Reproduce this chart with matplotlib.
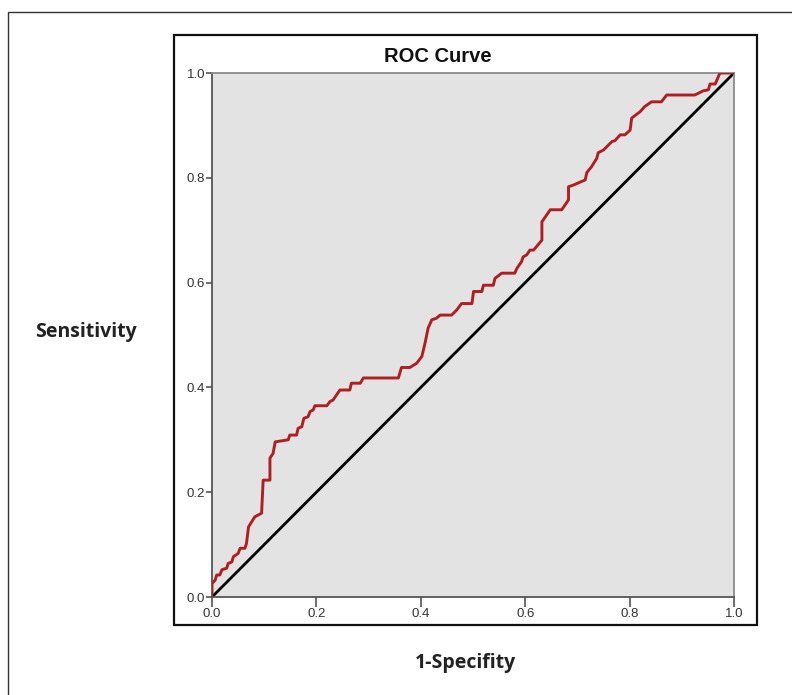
import matplotlib.pyplot as plt
from matplotlib.patches import Rectangle

# ROC curve points
fpr = [0.000, 0.000, 0.006, 0.009, 0.015, 0.019, 0.028, 0.031, 0.038, 0.041,
       0.050, 0.054, 0.063, 0.066, 0.070, 0.082, 0.095, 0.098, 0.111, 0.111,
       0.117, 0.121, 0.146, 0.149, 0.162, 0.165, 0.172, 0.176, 0.184, 0.188,
       0.194, 0.197, 0.220, 0.226, 0.232, 0.245, 0.264, 0.267, 0.284, 0.290,
       0.357, 0.363, 0.379, 0.392, 0.402, 0.408, 0.414, 0.421, 0.430, 0.437,
       0.459, 0.469, 0.478, 0.498, 0.501, 0.517, 0.520, 0.539, 0.542, 0.555,
       0.580, 0.584, 0.593, 0.596, 0.603, 0.609, 0.616, 0.632, 0.632, 0.648,
       0.670, 0.683, 0.683, 0.692, 0.715, 0.718, 0.727, 0.737, 0.740, 0.750,
       0.766, 0.772, 0.782, 0.791, 0.801, 0.804, 0.820, 0.829, 0.842, 0.861,
       0.871, 0.925, 0.941, 0.951, 0.954, 0.964, 0.973, 1.000]
tpr = [0.000, 0.026, 0.032, 0.042, 0.042, 0.052, 0.055, 0.064, 0.067, 0.077,
       0.083, 0.093, 0.093, 0.102, 0.134, 0.153, 0.160, 0.223, 0.223, 0.265,
       0.274, 0.296, 0.300, 0.309, 0.309, 0.322, 0.325, 0.341, 0.344, 0.354,
       0.357, 0.365, 0.365, 0.373, 0.376, 0.395, 0.395, 0.408, 0.408, 0.418,
       0.418, 0.438, 0.438, 0.446, 0.459, 0.484, 0.513, 0.529, 0.532, 0.538,
       0.538, 0.548, 0.560, 0.560, 0.583, 0.583, 0.595, 0.595, 0.608, 0.618,
       0.618, 0.627, 0.640, 0.649, 0.653, 0.662, 0.662, 0.681, 0.716, 0.739,
       0.739, 0.758, 0.783, 0.786, 0.796, 0.810, 0.821, 0.837, 0.848, 0.853,
       0.869, 0.871, 0.882, 0.882, 0.891, 0.914, 0.926, 0.936, 0.945, 0.945,
       0.958, 0.958, 0.966, 0.968, 0.979, 0.979, 1.000, 1.000]
ref_line = [0.0, 1.0]
ticks = [0.0, 0.2, 0.4, 0.6, 0.8, 1.0]

W, H = 792, 695
fig = plt.figure(figsize=(W / 100, H / 100), dpi=100)

# outer frame and chart box, in pixel units
def px_rect(x0, y0, x1, y1, lw, color):
    r = Rectangle((x0 / W, 1 - y1 / H), (x1 - x0) / W, (y1 - y0) / H,
                  transform=fig.transFigure, fill=False, lw=lw, ec=color)
    fig.patches.append(r)

px_rect(8, 12, 820, 720, 1.0, '#333333')
px_rect(174, 35, 757, 625, 1.6, '#111111')

ax = fig.add_axes([212 / W, 1 - 597 / H, (734 - 212) / W, (597 - 73) / H])
ax.set_facecolor('#e3e3e3')
ax.plot(fpr, tpr, color='#b01e22', lw=2.1, solid_joinstyle='round', zorder=3)
ax.plot(ref_line, ref_line, color='black', lw=2.0, zorder=2)

ax.set_xlim(0, 1)
ax.set_ylim(0, 1)
ax.set_xticks(ticks)
ax.set_yticks(ticks)
ax.set_xticklabels([f'{t:.1f}' for t in ticks], family='Liberation Sans')
ax.set_yticklabels([f'{t:.1f}' for t in ticks], family='Liberation Sans')
ax.tick_params(axis='both', labelsize=9.5, colors='#555555', labelcolor='#333333',
               width=1.2)
ax.tick_params(axis='y', length=4, pad=1)
ax.tick_params(axis='x', length=7, pad=1)
for side in ['left', 'bottom']:
    ax.spines[side].set_color('#555555')
    ax.spines[side].set_linewidth(1.3)
for side in ['top', 'right']:
    ax.spines[side].set_color('#8a8a8a')
    ax.spines[side].set_linewidth(1.3)

fig.text(438 / W, 1 - 56 / H, 'ROC Curve', ha='center', va='center',
         fontsize=14.5, fontweight='bold', family='Liberation Sans', color='#111111')
fig.text(86 / W, 1 - 332 / H, 'Sensitivity', ha='center', va='center',
         fontsize=14, fontweight='bold', family='Open Sans', color='#222222')
fig.text(466 / W, 1 - 663 / H, '1-Specifity', ha='center', va='center',
         fontsize=14, fontweight='bold', family='Open Sans', color='#222222')

fig.savefig('out.png', dpi=100)
